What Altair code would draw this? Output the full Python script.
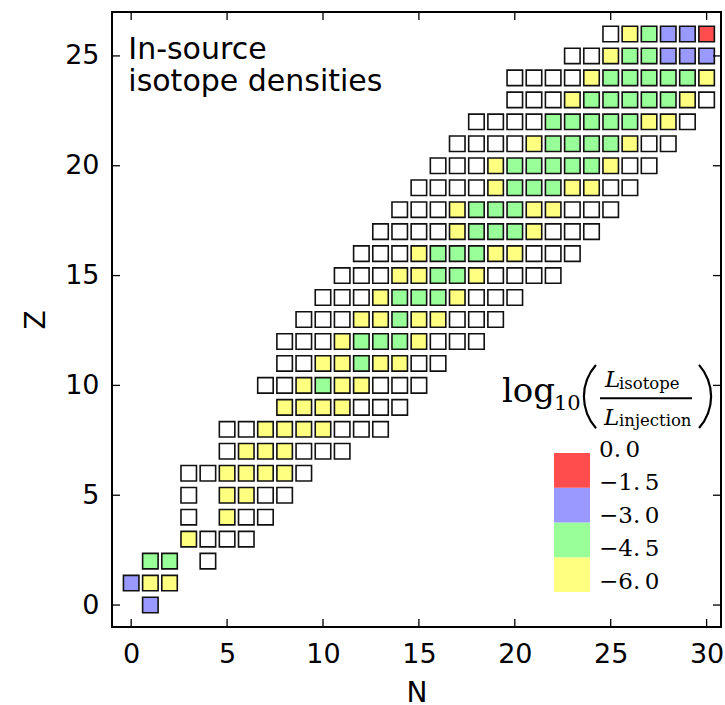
import altair as alt
import pandas as pd

# ---- data ----
Z_ROWS = list(range(27))
N_START = [1, 0, 1, 3, 3, 3, 3, 5, 5, 8, 7, 8, 8, 9, 10, 11, 12, 13, 14, 15,
           16, 17, 18, 20, 20, 23, 25]
# one letter per neutron number from N_START; '.' = no isotope drawn
ROW_CLASSES = [
    "B", "BYY", "GG.W", "YWWW", "W.YWW", "W.YYWW", "WWYYYYW", "WYYYWWW",
    "WWYYYYWWW", "YYYYWWW", "WWYGYYWWW", "WWYYGYYWW", "WWWYGGGYWWW",
    "WWWYYGYYWWW", "WWWYGGGYWWW", "WWWYYGGYWWWW", "WWWYGGGYYWWW",
    "WWWWYGGGYWWW", "WWWYGGGYYWWW", "WWWWYGGGYYWW", "WWWYGGGGGYWW",
    "WWWWYGGGGYWW", "WWWWGGGGGYYW", "WWWYGGGGGYW", "WWWWYGGGGGY",
    "WWYGGBBB", "WYGBBR",
]
# estimated log10(L_isotope / L_injection) of each colour class (W: below -6)
CLASS_LOG = {"W": -7.0, "Y": -5.25, "G": -3.75, "B": -2.25, "R": -0.75}
CBAR_DOMAIN = [-6.0, 0.0]
CBAR_TICKS = [0.0, -1.5, -3.0, -4.5, -6.0]
CBAR_COLORS = ["#ffff80", "#99ff99", "#9999ff", "#ff4d4d"]
N_TICKS = [0, 5, 10, 15, 20, 25, 30]
Z_TICKS = [0, 5, 10, 15, 20, 25]
ANNOT_TEXT = ["In-source", "isotope densities"]
ANNOT_N = [-0.15, -0.15]
ANNOT_Z = [24.85, 23.4]

rows = []
for z, n0, s in zip(Z_ROWS, N_START, ROW_CLASSES):
    for i, c in enumerate(s):
        if c == ".":
            continue
        rows.append({"N": n0 + i, "Z": z, "v": CLASS_LOG[c]})
cells = pd.DataFrame(rows)

W, H = 609, 615
FONT = "DejaVu Sans"
SERIF = "DejaVu Serif"
CBAR_X, CBAR_Y, CBAR_LEN, CBAR_W = 442, 441, 139, 36

x_enc = alt.X(
    "N:Q",
    scale=alt.Scale(domain=[-1, 30.75], nice=False, zero=False),
    axis=alt.Axis(values=N_TICKS, title="N", grid=False, ticks=False, tickSize=0,
                  domain=False, labelFont=FONT, labelFontSize=27, labelPadding=14,
                  labelColor="black", labelFlush=False, titleFont=FONT,
                  titleFontSize=28, titleFontWeight="normal", titleColor="black",
                  titleBaseline="alphabetic", titleY=74),
)
y_enc = alt.Y(
    "Z:Q",
    scale=alt.Scale(domain=[-1, 27], nice=False, zero=False),
    axis=alt.Axis(values=Z_TICKS, title="Z", grid=False, ticks=False, tickSize=0,
                  domain=False, labelFont=FONT, labelFontSize=27, labelPadding=13,
                  labelColor="black", labelFlush=False, titleFont=FONT,
                  titleFontSize=28, titleFontWeight="normal", titleColor="black",
                  titleBaseline="alphabetic", titleAngle=270, titleX=-68),
)

squares = alt.Chart(cells).mark_square(
    size=240, stroke="#111111", strokeWidth=1.6, opacity=1, fillOpacity=1
).encode(
    x=x_enc,
    y=y_enc,
    fill=alt.condition(
        "datum.v < -6",
        alt.value("white"),
        alt.Fill(
            "v:Q",
            scale=alt.Scale(type="quantize", domain=CBAR_DOMAIN, range=CBAR_COLORS),
            legend=alt.Legend(
                type="gradient", orient="none", legendX=CBAR_X, legendY=CBAR_Y,
                title=None, direction="vertical", gradientLength=CBAR_LEN,
                gradientThickness=CBAR_W, gradientStrokeWidth=0, padding=0,
                labelOpacity=0, labelExpr="''",
            ),
        ),
    ),
)

ntick = pd.DataFrame({"N": N_TICKS})
ztick = pd.DataFrame({"Z": Z_TICKS})
tick_style = dict(color="black", strokeWidth=1.3)
t_bottom = alt.Chart(ntick).mark_rule(**tick_style).encode(
    x=x_enc, y=alt.value(H - 8), y2=alt.value(H))
t_top = alt.Chart(ntick).mark_rule(**tick_style).encode(
    x=x_enc, y=alt.value(0), y2=alt.value(8))
t_left = alt.Chart(ztick).mark_rule(**tick_style).encode(
    y=y_enc, x=alt.value(0), x2=alt.value(8))
t_right = alt.Chart(ztick).mark_rule(**tick_style).encode(
    y=y_enc, x=alt.value(W - 8), x2=alt.value(W))

annot = alt.Chart(pd.DataFrame({"t": ANNOT_TEXT, "N": ANNOT_N, "Z": ANNOT_Z})).mark_text(
    font=FONT, fontSize=30, align="left", baseline="alphabetic", color="black"
).encode(x=x_enc, y=y_enc, text="t:N")

# colour-bar tick labels (mathtext sets them slightly tighter than the blocks)
cbar_lab = pd.DataFrame({"v": CBAR_TICKS})
cbar_labels = alt.Chart(cbar_lab).transform_calculate(
    lab="replace(format(datum.v, '.1f'), '.', '.\u2009')",
    py=f"{CBAR_Y - 3} + (0 - datum.v) / 6 * 132",
).mark_text(
    font=SERIF, fontSize=23, align="left", baseline="middle", color="black"
).encode(
    x=alt.value(CBAR_X + CBAR_W + 9),
    y=alt.Y("py:Q", scale=None),
    text="lab:N",
)


def txt(s, x, y, size, style="normal"):
    return alt.Chart(pd.DataFrame({"t": [s]})).mark_text(
        font=SERIF, fontSize=size, fontStyle=style, align="left",
        baseline="alphabetic", color="black"
    ).encode(x=alt.value(x), y=alt.value(y), text="t:N")


def paren(cx, cy, t1, t2):
    return alt.Chart(pd.DataFrame({"t": [0]})).mark_arc(
        theta=t1, theta2=t2, radius=48.5, radius2=46.3, color="black"
    ).encode(x=alt.value(cx), y=alt.value(cy))


frac_bar = alt.Chart(pd.DataFrame({"t": [0]})).mark_rule(
    color="black", strokeWidth=2
).encode(x=alt.value(488), x2=alt.value(580), y=alt.value(386.3))

legend_title = [
    txt("log", 390, 389.7, 34),
    txt("10", 442, 398, 21),
    paren(519.3, 384.5, 3.98, 5.44),
    txt("L", 493, 375, 23, "italic"),
    txt("isotope", 507, 377, 16.5),
    frac_bar,
    txt("L", 492, 413, 23, "italic"),
    txt("injection", 507, 414, 16.5),
    paren(551.7, 384.5, 0.84, 2.30),
]

chart = alt.layer(
    squares, t_bottom, t_top, t_left, t_right, annot, cbar_labels, *legend_title
).properties(
    width=W, height=H,
    autosize=alt.AutoSizeParams(type="none"),
    padding={"left": 112, "top": 12, "right": 4, "bottom": 78},
    background="white",
).configure_view(stroke="black", strokeWidth=2)

chart.save("out.html", embed_options={"renderer": "svg", "actions": False})
